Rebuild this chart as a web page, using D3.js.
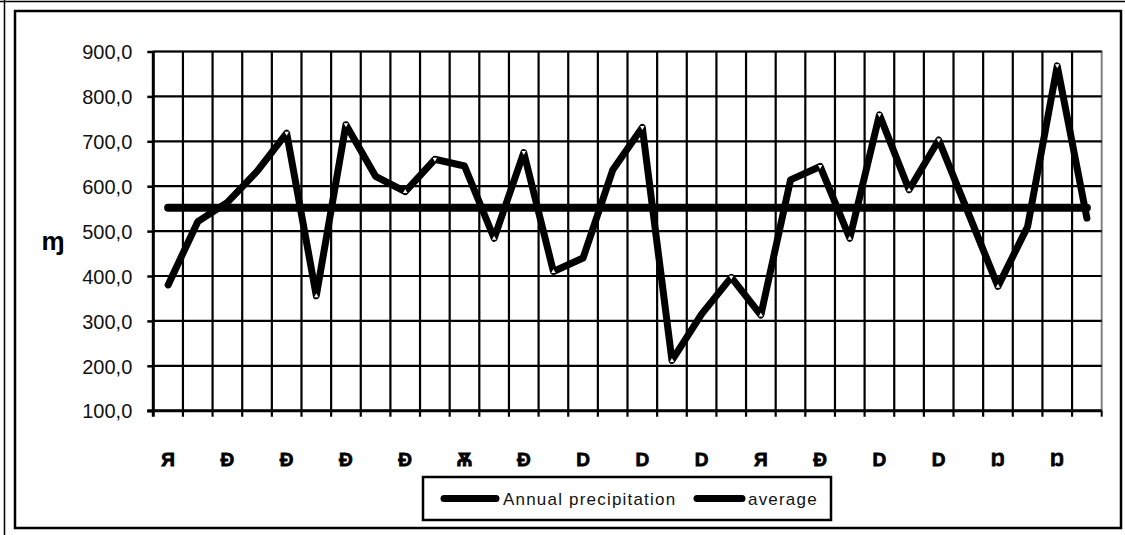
<!DOCTYPE html>
<html><head><meta charset="utf-8">
<script src="https://cdn.jsdelivr.net/npm/d3@7"></script>
<style>
html,body{margin:0;padding:0;background:#fff;}
svg{display:block;font-family:"Liberation Sans",Arial,sans-serif;}
</style></head>
<body>
<svg id="c" width="1125" height="535"></svg>
<script>
// ---- data ----
const categories = ["Я","Ð","Ð","Ð","Ð","Ð","Ð","Ð","Ð","Ð","Ѫ","Ð","Ð","Ð","D","D",
                    "D","D","D","D","Я","Ð","Ð","Ð","D","D","D","D","Ŋ","Ŋ","Ŋ","Ŋ"];
const precipitation = [380,521,564,633,718,356,737,622,588,660,645,484,675,410,440,636,
                       731,212,315,397,313,614,644,484,759,592,703,540,377,510,868,529];
const averageValue = 551.8;
const yTicks = [100,200,300,400,500,600,700,800,900];
const seriesNames = ["Annual precipitation","average"];
const yTitle = "ɱ";

// ---- layout ----
const svg = d3.select("#c");
const L = 153.3, R = 1101.7, T = 51.5, B = 410.7;

const x = d3.scaleBand().domain(d3.range(categories.length)).range([L, R]).padding(0);
const y = d3.scaleLinear().domain([100, 900]).range([B, T]);
const cx = i => x(i) + x.bandwidth() / 2;

// outer frame
svg.append("line").attr("x1",0).attr("x2",1125).attr("y1",1.5).attr("y2",1.5).attr("stroke","#000").attr("stroke-width",1.5);
svg.append("line").attr("x1",4.5).attr("x2",4.5).attr("y1",0).attr("y2",535).attr("stroke","#000").attr("stroke-width",1.5);
svg.append("rect").attr("x",15).attr("y",11).attr("width",1106).attr("height",517)
   .attr("fill","#fff").attr("stroke","#000").attr("stroke-width",2.5);

// plot area border (top/right grey)
svg.append("rect").attr("x",L).attr("y",T).attr("width",R-L).attr("height",B-T)
   .attr("fill","none").attr("stroke","#808080").attr("stroke-width",2);

// horizontal gridlines
svg.append("g").selectAll("line").data(yTicks.slice(1)).join("line")
  .attr("x1",L).attr("x2",R).attr("y1",d=>y(d)).attr("y2",d=>y(d))
  .attr("stroke","#000").attr("stroke-width",2.2);

// vertical gridlines at category boundaries + ticks below
const bounds = d3.range(1, categories.length).map(i => x(i));
svg.append("g").selectAll("line").data(bounds).join("line")
  .attr("x1",d=>d).attr("x2",d=>d).attr("y1",T).attr("y2",B+6)
  .attr("stroke","#000").attr("stroke-width",2.2);
svg.append("line").attr("x1",R).attr("x2",R).attr("y1",B).attr("y2",B+6).attr("stroke","#000").attr("stroke-width",2);

// y axis
const yAxis = d3.axisLeft(y).tickValues(yTicks).tickSize(6)
  .tickFormat(d => d3.format(".1f")(d).replace(".", ","));
const gy = svg.append("g").attr("transform",`translate(${L},0)`).call(yAxis);
gy.select(".domain").attr("d",`M0,${T}V${B+6}`).attr("stroke","#000").attr("stroke-width",3);
gy.selectAll(".tick line").attr("stroke","#000").attr("stroke-width",2.5);
gy.selectAll(".tick text").attr("x",-21).attr("dy","0.36em")
  .style("font-size","20px").style("font-family","'Liberation Sans',Arial,sans-serif").attr("fill","#111");

// x axis line
svg.append("line").attr("x1",L-6).attr("x2",R).attr("y1",B).attr("y2",B).attr("stroke","#000").attr("stroke-width",3);

// x labels (every other category)
svg.append("g").selectAll("text").data(categories.map((c,i)=>({c,i})).filter(d=>d.i%2===0)).join("text")
  .attr("x",d=>cx(d.i)).attr("y",466).attr("text-anchor","middle")
  .style("font-size","19px").style("font-weight","bold").attr("stroke","#000").attr("stroke-width",0.8)
  .text(d=>d.c);

// y title
svg.append("text").attr("x",53).attr("y",250).attr("text-anchor","middle")
  .style("font-size","26px").style("font-weight","bold").text(yTitle);

// average line
svg.append("line").attr("x1",cx(0)).attr("x2",cx(categories.length-1))
  .attr("y1",y(averageValue)).attr("y2",y(averageValue))
  .attr("stroke","#000").attr("stroke-width",8).attr("stroke-linecap","round");

// precipitation line
const line = d3.line().x((d,i)=>cx(i)).y(d=>y(d));
svg.append("path").attr("d", line(precipitation)).attr("fill","none")
  .attr("stroke","#000").attr("stroke-width",7).attr("stroke-linejoin","round").attr("stroke-linecap","round");

// small white triangle markers visible at the turning points
const turns = precipitation.map((v,i)=>({v,i})).filter(d=>d.i>0 && d.i<precipitation.length-1 &&
  ((d.v>precipitation[d.i-1] && d.v>precipitation[d.i+1]) || (d.v<precipitation[d.i-1] && d.v<precipitation[d.i+1])));
svg.append("g").selectAll("path").data(turns).join("path")
  .attr("d", d => {
    const px = cx(d.i), py = y(d.v);
    const peak = d.v > precipitation[d.i-1];
    return peak ? `M${px-2.2},${py-1.5}L${px+2.2},${py-1.5}L${px},${py+2.5}Z`
                : `M${px-2.2},${py+1.5}L${px+2.2},${py+1.5}L${px},${py-2.5}Z`;
  })
  .attr("fill","#fff");

// legend
const lg = svg.append("g");
lg.append("rect").attr("x",423).attr("y",477).attr("width",408).attr("height",43)
  .attr("fill","#fff").attr("stroke","#000").attr("stroke-width",2.5);
const items = [{name:seriesNames[0], x0:444, x1:496, tx:503}, {name:seriesNames[1], x0:697, x1:742, tx:748}];
items.forEach(it=>{
  lg.append("line").attr("x1",it.x0).attr("x2",it.x1).attr("y1",498.5).attr("y2",498.5)
    .attr("stroke","#000").attr("stroke-width",7).attr("stroke-linecap","round");
  lg.append("text").attr("x",it.tx).attr("y",505).style("font-size","17px")
    .style("letter-spacing","1.2px").attr("fill","#111").text(it.name);
});
</script>
</body></html>
